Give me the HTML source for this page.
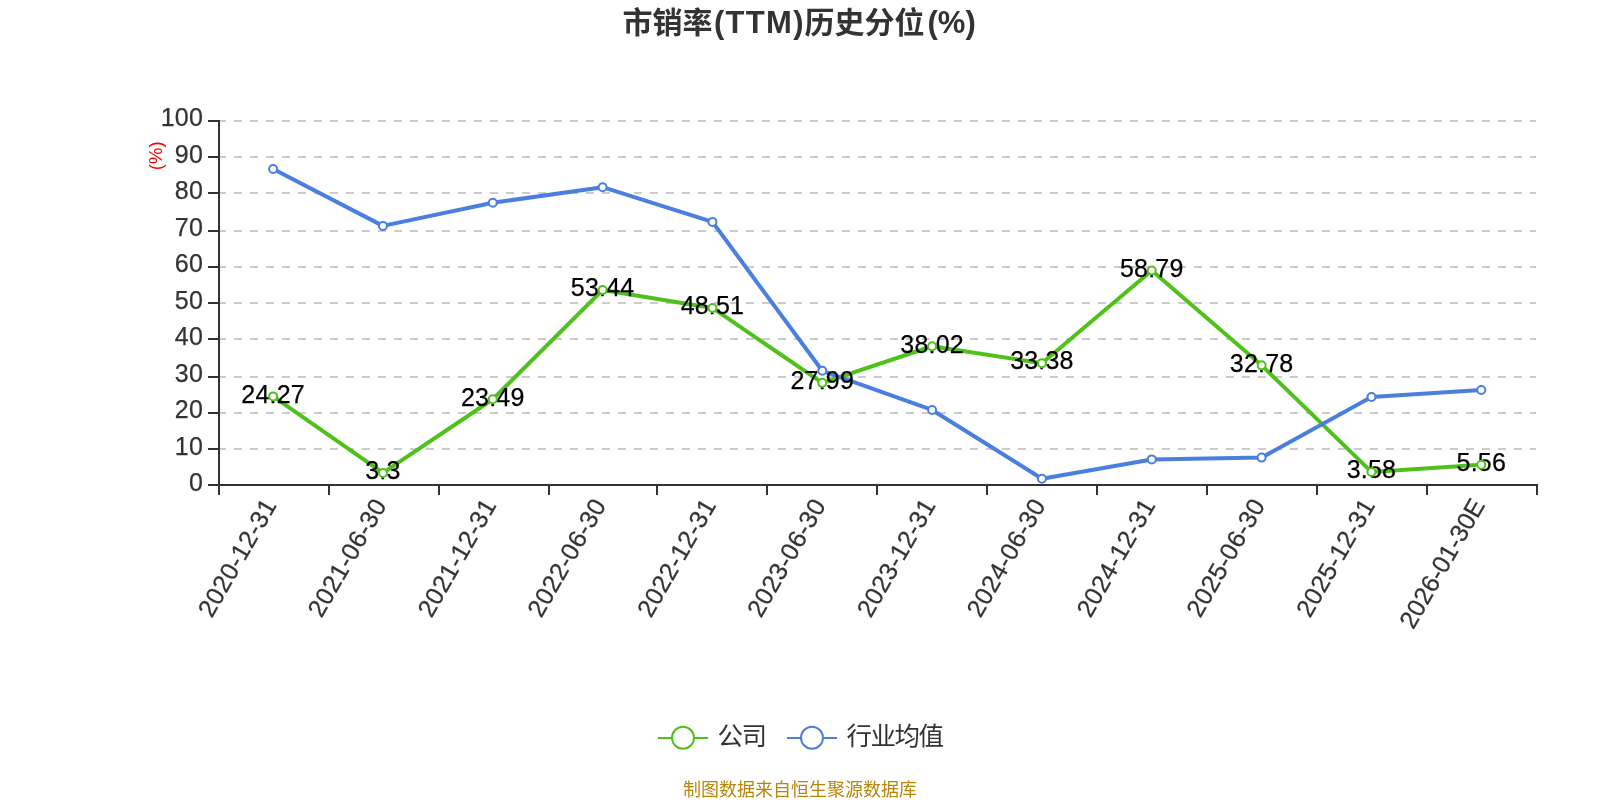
<!DOCTYPE html>
<html lang="zh-CN">
<head>
<meta charset="utf-8">
<title>市销率(TTM)历史分位(%)</title>
<style>
html,body{margin:0;padding:0;background:#fff;}
body{width:1600px;height:800px;overflow:hidden;}
svg{display:block;will-change:transform;}
svg text{font-family:"Liberation Sans", "Noto Sans CJK SC", sans-serif;}
</style>
</head>
<body>
<svg width="1600" height="800" viewBox="0 0 1600 800">
<rect x="0" y="0" width="1600" height="800" fill="#fff"/>
<g id="title" font-weight="bold" fill="#333" font-size="30">
<text y="32.5"><tspan x="622.5">市销率</tspan><tspan x="714" font-size="31" letter-spacing="1.3">(TTM)</tspan><tspan x="804.5">历史分位</tspan><tspan x="927.5" font-size="31">(%)</tspan></text>
</g>
<g id="grid" stroke="#ccc" stroke-width="2" stroke-dasharray="8 8" fill="none">
<line x1="218" y1="449" x2="1536" y2="449"/>
<line x1="218" y1="413" x2="1536" y2="413"/>
<line x1="218" y1="377" x2="1536" y2="377"/>
<line x1="218" y1="339" x2="1536" y2="339"/>
<line x1="218" y1="303" x2="1536" y2="303"/>
<line x1="218" y1="267" x2="1536" y2="267"/>
<line x1="218" y1="231" x2="1536" y2="231"/>
<line x1="218" y1="193" x2="1536" y2="193"/>
<line x1="218" y1="157" x2="1536" y2="157"/>
<line x1="218" y1="121" x2="1536" y2="121"/>
</g>
<g id="axes" stroke="#333" stroke-width="2" fill="none">
<line x1="219" y1="120" x2="219" y2="486"/>
<line x1="218" y1="485" x2="1538" y2="485"/>
<line x1="208" y1="485" x2="219" y2="485"/>
<line x1="208" y1="449" x2="219" y2="449"/>
<line x1="208" y1="413" x2="219" y2="413"/>
<line x1="208" y1="377" x2="219" y2="377"/>
<line x1="208" y1="339" x2="219" y2="339"/>
<line x1="208" y1="303" x2="219" y2="303"/>
<line x1="208" y1="267" x2="219" y2="267"/>
<line x1="208" y1="231" x2="219" y2="231"/>
<line x1="208" y1="193" x2="219" y2="193"/>
<line x1="208" y1="157" x2="219" y2="157"/>
<line x1="208" y1="121" x2="219" y2="121"/>
<line x1="219" y1="485" x2="219" y2="495"/>
<line x1="329" y1="485" x2="329" y2="495"/>
<line x1="439" y1="485" x2="439" y2="495"/>
<line x1="549" y1="485" x2="549" y2="495"/>
<line x1="657" y1="485" x2="657" y2="495"/>
<line x1="767" y1="485" x2="767" y2="495"/>
<line x1="877" y1="485" x2="877" y2="495"/>
<line x1="987" y1="485" x2="987" y2="495"/>
<line x1="1097" y1="485" x2="1097" y2="495"/>
<line x1="1207" y1="485" x2="1207" y2="495"/>
<line x1="1317" y1="485" x2="1317" y2="495"/>
<line x1="1427" y1="485" x2="1427" y2="495"/>
<line x1="1537" y1="485" x2="1537" y2="495"/>
</g>
<g id="ylabels" font-size="25" letter-spacing="0.2" fill="#333" stroke="#333" stroke-width="0.25" text-anchor="end">
<text x="203" y="491">0</text>
<text x="203" y="454.5">10</text>
<text x="203" y="418">20</text>
<text x="203" y="381.5">30</text>
<text x="203" y="345">40</text>
<text x="203" y="308.5">50</text>
<text x="203" y="272">60</text>
<text x="203" y="235.5">70</text>
<text x="203" y="199">80</text>
<text x="203" y="162.5">90</text>
<text x="203" y="126">100</text>
</g>
<text id="unit" font-size="18.5" fill="#f00" text-anchor="middle" transform="translate(162,155.8) rotate(-90)">(%)</text>
<g id="xlabels" font-size="25" letter-spacing="0.35" fill="#333" stroke="#333" stroke-width="0.25" text-anchor="end">
<text transform="translate(277.45,505) rotate(-60)">2020-12-31</text>
<text transform="translate(387.28,505) rotate(-60)">2021-06-30</text>
<text transform="translate(497.11,505) rotate(-60)">2021-12-31</text>
<text transform="translate(606.95,505) rotate(-60)">2022-06-30</text>
<text transform="translate(716.78,505) rotate(-60)">2022-12-31</text>
<text transform="translate(826.61,505) rotate(-60)">2023-06-30</text>
<text transform="translate(936.45,505) rotate(-60)">2023-12-31</text>
<text transform="translate(1046.28,505) rotate(-60)">2024-06-30</text>
<text transform="translate(1156.11,505) rotate(-60)">2024-12-31</text>
<text transform="translate(1265.95,505) rotate(-60)">2025-06-30</text>
<text transform="translate(1375.78,505) rotate(-60)">2025-12-31</text>
<text transform="translate(1485.61,505) rotate(-60)" letter-spacing="0">2026-01-30E</text>
</g>
<g id="lines">
<polyline points="273.12,396.41 382.95,472.95 492.78,399.26 602.62,289.94 712.45,307.94 822.28,382.84 932.12,346.23 1041.95,363.16 1151.78,270.42 1261.62,365.35 1371.45,471.93 1481.28,464.71" fill="none" stroke="#4fc11b" stroke-width="4" stroke-linejoin="bevel"/>
<polyline points="273.12,168.98 382.95,225.89 492.78,202.78 602.62,187.2 712.45,221.91 822.28,370.79 932.12,409.99 1041.95,478.69 1151.78,459.41 1261.62,457.59 1371.45,397 1481.28,389.99" fill="none" stroke="#4a7fe0" stroke-width="4" stroke-linejoin="bevel"/>
</g>
<g id="datalabels" font-size="25" letter-spacing="0.2" fill="#000" stroke="#000" stroke-width="0.25" text-anchor="middle">
<text x="273.12" y="402.71">24.27</text>
<text x="382.95" y="479.25">3.3</text>
<text x="492.78" y="405.56">23.49</text>
<text x="602.62" y="296.24">53.44</text>
<text x="712.45" y="314.24">48.51</text>
<text x="822.28" y="389.14">27.99</text>
<text x="932.12" y="352.53">38.02</text>
<text x="1041.95" y="369.46">33.38</text>
<text x="1151.78" y="276.72">58.79</text>
<text x="1261.62" y="371.65">32.78</text>
<text x="1371.45" y="478.23">3.58</text>
<text x="1481.28" y="471.01">5.56</text>
</g>
<g id="symbols">
<g fill="#fff" stroke="#4fc11b" stroke-width="2"><circle cx="273.12" cy="396.41" r="4"/><circle cx="382.95" cy="472.95" r="4"/><circle cx="492.78" cy="399.26" r="4"/><circle cx="602.62" cy="289.94" r="4"/><circle cx="712.45" cy="307.94" r="4"/><circle cx="822.28" cy="382.84" r="4"/><circle cx="932.12" cy="346.23" r="4"/><circle cx="1041.95" cy="363.16" r="4"/><circle cx="1151.78" cy="270.42" r="4"/><circle cx="1261.62" cy="365.35" r="4"/><circle cx="1371.45" cy="471.93" r="4"/><circle cx="1481.28" cy="464.71" r="4"/></g>
<g fill="#fff" stroke="#4a7fe0" stroke-width="2"><circle cx="273.12" cy="168.98" r="4"/><circle cx="382.95" cy="225.89" r="4"/><circle cx="492.78" cy="202.78" r="4"/><circle cx="602.62" cy="187.2" r="4"/><circle cx="712.45" cy="221.91" r="4"/><circle cx="822.28" cy="370.79" r="4"/><circle cx="932.12" cy="409.99" r="4"/><circle cx="1041.95" cy="478.69" r="4"/><circle cx="1151.78" cy="459.41" r="4"/><circle cx="1261.62" cy="457.59" r="4"/><circle cx="1371.45" cy="397" r="4"/><circle cx="1481.28" cy="389.99" r="4"/></g>
</g>
<g id="legend">
<line x1="658" y1="738" x2="708" y2="738" stroke="#4fc11b" stroke-width="2"/>
<circle cx="683" cy="737.8" r="11" fill="#fff" stroke="#4fc11b" stroke-width="2"/>
<text x="717.5" y="745.3" font-size="25.5" letter-spacing="-1.5" fill="#333">公司</text>
<line x1="787" y1="738" x2="837" y2="738" stroke="#4a7fe0" stroke-width="2"/>
<circle cx="812" cy="737.8" r="11" fill="#fff" stroke="#4a7fe0" stroke-width="2"/>
<text x="846.5" y="745.3" font-size="25.5" letter-spacing="-1.5" fill="#333">行业均值</text>
</g>
<text id="footer" x="800" y="796" font-size="18" fill="#b8860b" text-anchor="middle">制图数据来自恒生聚源数据库</text>
</svg>
</body>
</html>
